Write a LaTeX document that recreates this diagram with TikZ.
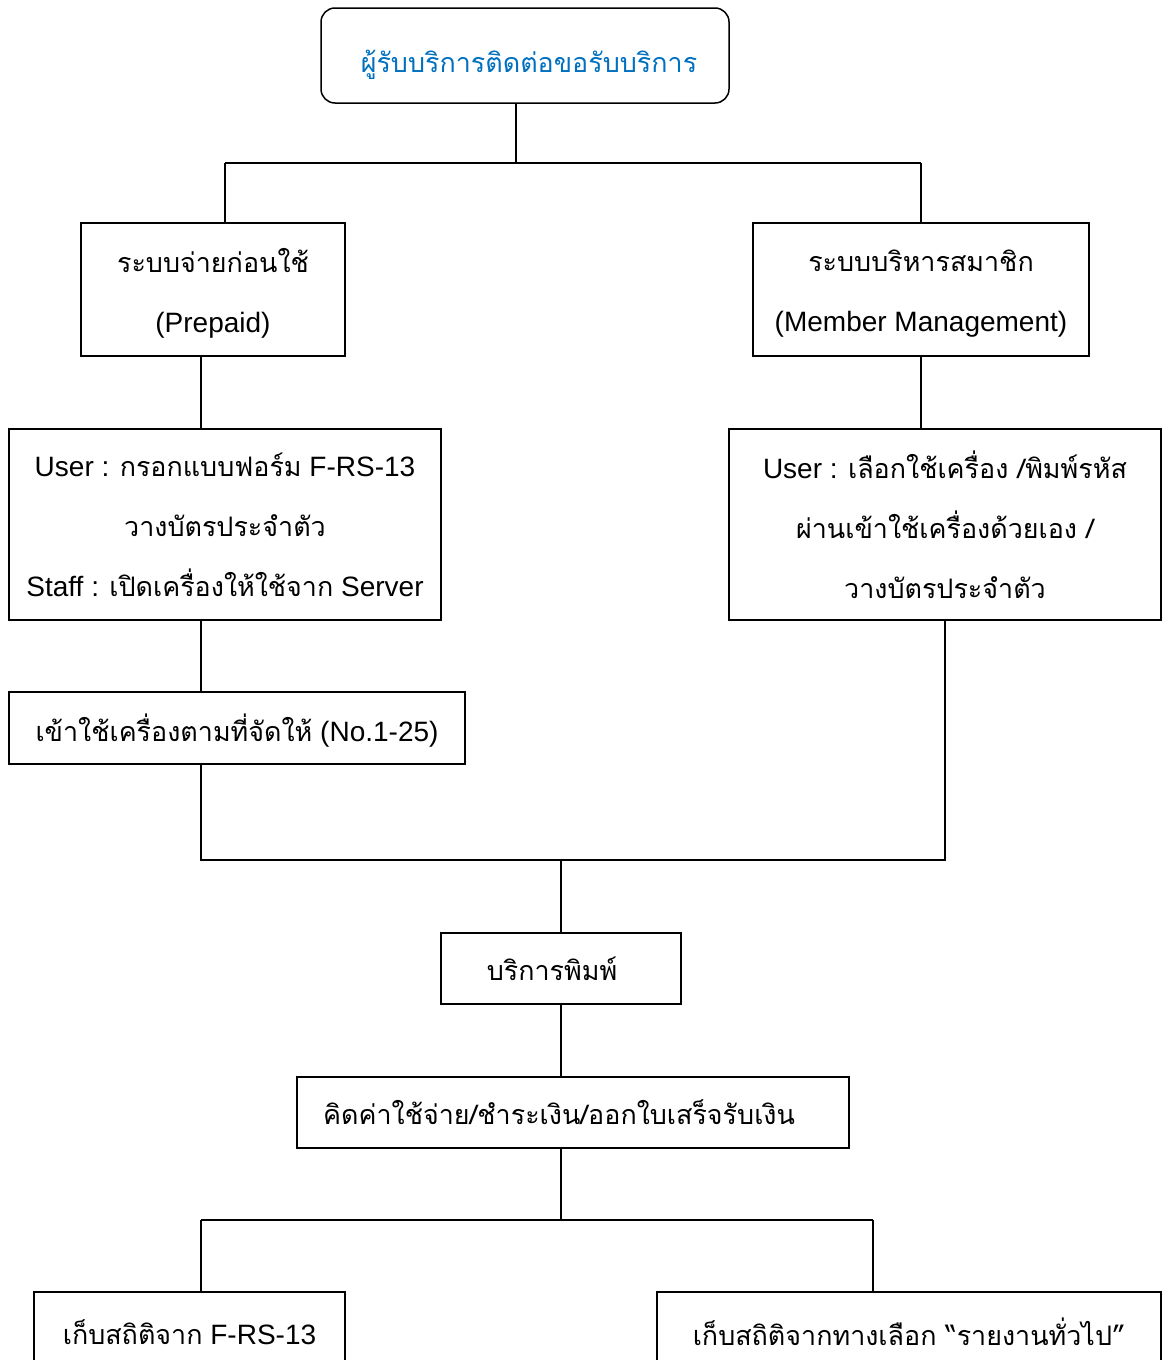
\documentclass[tikz,border=0pt]{standalone}
\usepackage{fontspec}
\setmainfont{Liberation Sans}
\newfontfamily\thaifont[Script=Thai,Scale=0.96]{Loma}
\newcommand\T[1]{{\thaifont #1}}
\newcommand\Dn[2]{\raisebox{-#1}[\height][\depth]{#2}}
\definecolor{topblue}{RGB}{0,112,192}
\begin{document}
\begin{tikzpicture}[x=1pt,y=-1pt,
  box/.style={draw=black,line width=1.5pt,inner sep=0pt,align=center,
    font=\fontsize{28}{60}\selectfont},
  conn/.style={draw=black,line width=1.5pt}]
\useasboundingbox (0,0) rectangle (1163,1360);
\clip (0,0) rectangle (1163,1360);
\node[box,rounded corners=14pt,minimum width=408pt,minimum height=95pt,text=topblue] (top) at (525,55.5) {\hspace*{8pt}\Dn{9pt}{\T{ผู้รับบริการติดต่อขอรับบริการ}}};
\node[box,minimum width=264pt,minimum height=133pt] (pp) at (213,289.5) {\Dn{4pt}{\T{ระบบจ่ายก่อนใช้}}\\\Dn{4pt}{(Prepaid)}};
\node[box,minimum width=336pt,minimum height=133pt] (mm) at (921,289.5) {\Dn{4pt}{\T{ระบบบริหารสมาชิก}}\\\Dn{4pt}{(Member Management)}};
\node[box,minimum width=432pt,minimum height=191pt] (ul) at (225,524.5) {User : \T{กรอกแบบฟอร์ม} F-RS-13\\\T{วางบัตรประจำตัว}\\Staff : \T{เปิดเครื่องให้ใช้จาก} Server};
\node[box,minimum width=432pt,minimum height=191pt] (ur) at (945,524.5) {User : \T{เลือกใช้เครื่อง /พิมพ์รหัส}\\\T{ผ่านเข้าใช้เครื่องด้วยเอง /}\\\T{วางบัตรประจำตัว}};
\node[box,minimum width=456pt,minimum height=72pt] (ent) at (237,728) {\Dn{3pt}{\T{เข้าใช้เครื่องตามที่จัดให้} (No.1-25)}};
\node[box,minimum width=240pt,minimum height=71pt] (prn) at (561,968.5) {\T{บริการพิมพ์}\hspace*{18pt}};
\node[box,minimum width=552pt,minimum height=71pt] (pay) at (573,1112.5) {\T{คิดค่าใช้จ่าย/ชำระเงิน/ออกใบเสร็จรับเงิน}\hspace*{28pt}};
\node[box,minimum width=311pt,minimum height=80pt] (bl) at (189.5,1332) {\T{เก็บสถิติจาก} F-RS-13};
\node[box,minimum width=504pt,minimum height=80pt] (br) at (909,1332) {\T{เก็บสถิติจากทางเลือก “รายงานทั่วไป”}};
\coordinate (j1) at (516,163);
\coordinate (j1l) at (225,163);
\coordinate (j1r) at (921,163);
\coordinate (jl2) at (201,860);
\coordinate (jm2) at (561,860);
\coordinate (jr2) at (945,860);
\coordinate (jl3) at (201,1220);
\coordinate (jm3) at (561,1220);
\coordinate (jr3) at (873,1220);
\draw[conn] (top.south -| j1) -- (j1);
\draw[conn] (j1l) -- (j1r);
\draw[conn] (j1l) -- (pp.north -| j1l);
\draw[conn] (j1r) -- (mm.north -| j1r);
\draw[conn] (pp.south -| jl2) -- (ul.north -| jl2);
\draw[conn] (mm.south) -- (mm.south |- ur.north);
\draw[conn] (ul.south -| jl2) -- (ent.north -| jl2);
\draw[conn] (ent.south -| jl2) -- (jl2) -- (jr2) -- (ur.south -| jr2);
\draw[conn] (jm2) -- (prn.north);
\draw[conn] (prn.south) -- (prn.south |- pay.north);
\draw[conn] (pay.south -| jm3) -- (jm3);
\draw[conn] (jl3) -- (jr3);
\draw[conn] (jl3) -- (bl.north -| jl3);
\draw[conn] (jr3) -- (br.north -| jr3);
\end{tikzpicture}
\end{document}
